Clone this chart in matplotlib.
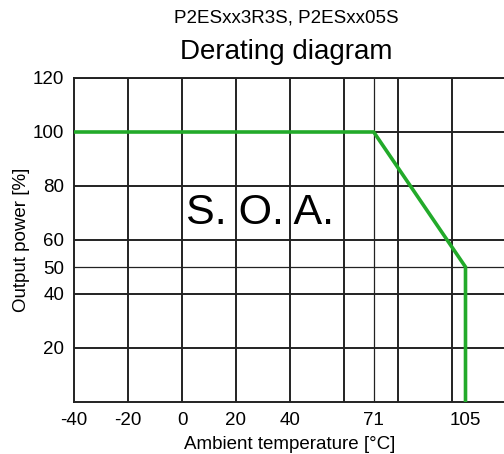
import matplotlib.pyplot as plt

plt.rcParams['font.family'] = ['Liberation Sans', 'DejaVu Sans']
plt.rcParams['axes.unicode_minus'] = False

# derating curve
temp = [-40, 71, 105, 105]
power = [100, 100, 50, 0]

x_ticks = [-40, -20, 0, 20, 40, 71, 105]
y_ticks = [20, 40, 50, 60, 80, 100, 120]
x_grid = [-20, 0, 20, 40, 60, 80, 100]
x_grid_thin = [71]
y_grid = [20, 40, 60, 80, 100, 120]
y_grid_thin = [50]

fig = plt.figure(figsize=(5.04, 4.54), dpi=100)
ax = fig.add_axes([74 / 504, 52 / 454, 432 / 504, 324 / 454])

for x in x_grid:
    ax.axvline(x, color='#222222', lw=1.4, zorder=1)
for x in x_grid_thin:
    ax.axvline(x, color='#222222', lw=0.9, zorder=1)
for y in y_grid:
    ax.axhline(y, color='#222222', lw=1.4, zorder=1)
for y in y_grid_thin:
    ax.axhline(y, color='#222222', lw=0.9, zorder=1)

ax.plot(temp, power, color='#22aa2a', lw=2.6, zorder=3, solid_joinstyle='miter')

ax.text(29, 70, 'S. O. A.', fontsize=31, ha='center', va='center')

ax.set_xlim(-40, 120)
ax.set_ylim(0, 120)
ax.set_xticks(x_ticks)
ax.set_yticks(y_ticks)
ax.tick_params(length=0, labelsize=13.5, pad=7)
for s in ax.spines.values():
    s.set_linewidth(1.4)
    s.set_color('#222222')
ax.spines['right'].set_visible(False)

ax.set_xlabel('Ambient temperature [°C]', fontsize=13.5, labelpad=5)
ax.set_ylabel('Output power [%]', fontsize=13.5, labelpad=2)

fig.text(0.568, 0.96, 'P2ESxx3R3S, P2ESxx05S', fontsize=13.5, ha='center', va='center')
fig.text(0.568, 0.885, 'Derating diagram', fontsize=20, ha='center', va='center')

fig.savefig('out.png', dpi=100)
